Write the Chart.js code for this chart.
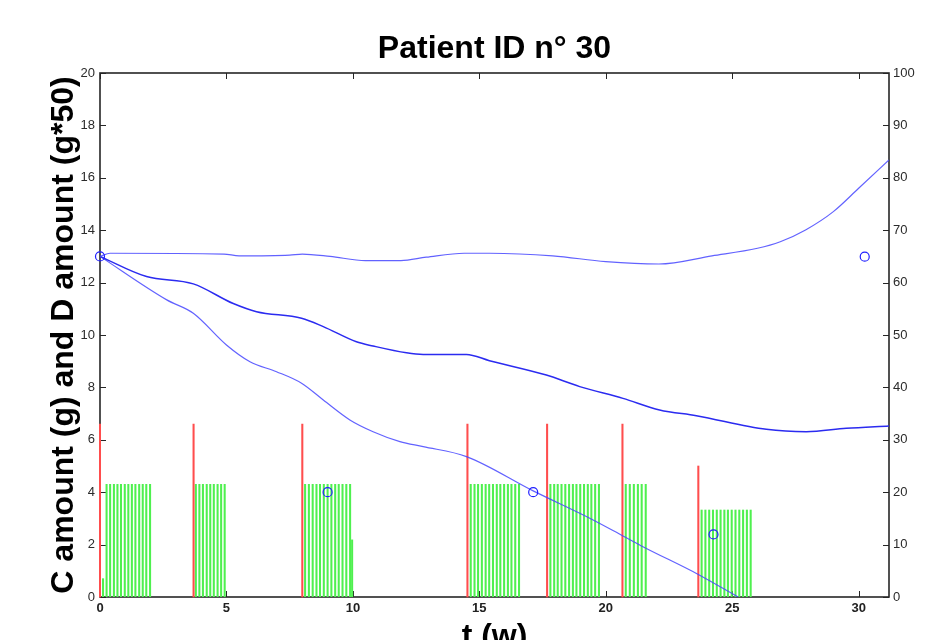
<!DOCTYPE html>
<html lang="en">
<head>
<meta charset="UTF-8">
<title>Patient ID n° 30</title>
<script src="https://cdn.jsdelivr.net/npm/chart.js"></script>
<style>
  html, body { margin: 0; padding: 0; background: #fff; overflow: hidden; }
  canvas { display: block; }
</style>
</head>
<body>
<canvas id="patientChart" width="925" height="665"></canvas>
<script>
// observed amounts (weeks, g)
const obsTimes = [0, 9.0, 17.13, 24.26, 30.24];
const obsValues = [13, 4.0, 4.0, 2.39, 12.99];

// predicted amount: upper band, median, lower band
const upperTimes = [0, 0.4, 4.9, 5.5, 7.5, 8.0, 9.1, 10.5, 11.9, 12.9, 14.4, 15.4, 17.9, 20.0, 22.1, 24.2, 26.0, 26.9, 27.9, 29.0, 30.0, 31.2];
const upperValues = [13, 13.12, 13.09, 13.02, 13.05, 13.09, 13.0, 12.84, 12.84, 12.97, 13.12, 13.12, 13.02, 12.8, 12.71, 13.02, 13.31, 13.56, 14.01, 14.71, 15.6, 16.68];

const medianTimes = [0, 1.84, 3.69, 5.27, 6.19, 7.97, 8.83, 10.14, 10.8, 12.12, 12.78, 14.49, 15.4, 17.65, 18.97, 20.68, 22.13, 23.58, 26.35, 27.93, 29.51, 31.2];
const medianValues = [13, 12.23, 11.95, 11.2, 10.89, 10.64, 10.32, 9.74, 9.58, 9.32, 9.26, 9.26, 9.02, 8.47, 8.03, 7.58, 7.14, 6.92, 6.4, 6.31, 6.44, 6.53];

const lowerTimes = [0, 2.64, 3.69, 5.0, 5.93, 6.98, 7.97, 8.83, 9.88, 10.8, 11.86, 12.78, 14.49, 17.13, 19.5, 20.68, 21.47, 23.64, 25.23];
const lowerValues = [13, 11.34, 10.83, 9.62, 8.98, 8.6, 8.16, 7.52, 6.76, 6.31, 5.93, 5.74, 5.36, 4.05, 2.94, 2.33, 1.92, 0.87, 0];

// D doses (g*50), one per cycle
const dTimes = [0, 3.7, 8.0, 14.53, 17.68, 20.66, 23.66];
const dAmounts = [6.6, 6.6, 6.6, 6.6, 6.6, 6.6, 5.0];

// C daily doses (g), grouped by cycle
const cCycleTimes = [
  [0.12, 0.26, 0.40, 0.55, 0.69, 0.83, 0.98, 1.12, 1.26, 1.40, 1.55, 1.69, 1.83, 1.98],
  [3.79, 3.93, 4.07, 4.22, 4.36, 4.50, 4.65, 4.79, 4.93],
  [8.11, 8.26, 8.41, 8.56, 8.70, 8.85, 9.00, 9.15, 9.30, 9.44, 9.59, 9.74, 9.89, 9.97],
  [14.66, 14.81, 14.95, 15.10, 15.25, 15.39, 15.54, 15.69, 15.83, 15.98, 16.13, 16.27, 16.42, 16.57],
  [17.81, 17.96, 18.10, 18.25, 18.40, 18.55, 18.70, 18.84, 18.99, 19.14, 19.29, 19.43, 19.58, 19.73],
  [20.79, 20.95, 21.11, 21.27, 21.42, 21.58],
  [23.79, 23.94, 24.09, 24.24, 24.39, 24.54, 24.69, 24.83, 24.98, 25.13, 25.28, 25.43, 25.58, 25.73]
];
const cCycleAmounts = [
  [0.7, 4.3, 4.3, 4.3, 4.3, 4.3, 4.3, 4.3, 4.3, 4.3, 4.3, 4.3, 4.3, 4.3],
  [4.3, 4.3, 4.3, 4.3, 4.3, 4.3, 4.3, 4.3, 4.3],
  [4.3, 4.3, 4.3, 4.3, 4.3, 4.3, 4.3, 4.3, 4.3, 4.3, 4.3, 4.3, 4.3, 2.18],
  [4.3, 4.3, 4.3, 4.3, 4.3, 4.3, 4.3, 4.3, 4.3, 4.3, 4.3, 4.3, 4.3, 4.3],
  [4.3, 4.3, 4.3, 4.3, 4.3, 4.3, 4.3, 4.3, 4.3, 4.3, 4.3, 4.3, 4.3, 4.3],
  [4.3, 4.3, 4.3, 4.3, 4.3, 4.3],
  [3.32, 3.32, 3.32, 3.32, 3.32, 3.32, 3.32, 3.32, 3.32, 3.32, 3.32, 3.32, 3.32, 3.32]
];

const FONT = 'Liberation Sans, Arial, Helvetica, sans-serif';

function toXY(xs, ys) {
  return xs.map((x, i) => ({ x: x, y: ys[i] }));
}

const cDoses = [];
cCycleTimes.forEach((times, c) => {
  cDoses.push(...toXY(times, cCycleAmounts[c]));
});

// MATLAB-like box with tick marks pointing into the plot
const boxTicks = {
  id: 'boxTicks',
  beforeDatasetsDraw(chart) {
    const { ctx, chartArea: a, scales } = chart;
    const len = 6;
    ctx.save();
    ctx.strokeStyle = '#262626';
    ctx.lineWidth = 1;
    ctx.beginPath();
    scales.x.ticks.forEach(t => {
      const px = Math.round(scales.x.getPixelForValue(t.value)) + 0.5;
      ctx.moveTo(px, a.bottom);
      ctx.lineTo(px, a.bottom - len);
      ctx.moveTo(px, a.top);
      ctx.lineTo(px, a.top + len);
    });
    scales.y.ticks.forEach(t => {
      const py = Math.round(scales.y.getPixelForValue(t.value)) + 0.5;
      ctx.moveTo(a.left, py);
      ctx.lineTo(a.left + len, py);
    });
    scales.y2.ticks.forEach(t => {
      const py = Math.round(scales.y2.getPixelForValue(t.value)) + 0.5;
      ctx.moveTo(a.right, py);
      ctx.lineTo(a.right - len, py);
    });
    ctx.stroke();
    ctx.lineWidth = 1.6;
    ctx.strokeRect(a.left, a.top, a.right - a.left, a.bottom - a.top);
    ctx.restore();
  }
};

new Chart(document.getElementById('patientChart'), {
  type: 'line',
  data: {
    datasets: [
      {
        label: 'Observed',
        data: toXY(obsTimes, obsValues),
        showLine: false,
        pointRadius: 4.5,
        pointBorderWidth: 1.2,
        pointBorderColor: '#1f1fff',
        pointBackgroundColor: 'rgba(0,0,0,0)',
        clip: false
      },
      {
        label: 'Upper',
        data: toXY(upperTimes, upperValues),
        borderColor: 'rgba(70,70,255,0.85)',
        borderWidth: 1.2,
        pointRadius: 0,
        cubicInterpolationMode: 'monotone'
      },
      {
        label: 'Median',
        data: toXY(medianTimes, medianValues),
        borderColor: '#2b2bf0',
        borderWidth: 1.5,
        pointRadius: 0,
        cubicInterpolationMode: 'monotone'
      },
      {
        label: 'Lower',
        data: toXY(lowerTimes, lowerValues),
        borderColor: 'rgba(70,70,255,0.85)',
        borderWidth: 1.2,
        pointRadius: 0,
        cubicInterpolationMode: 'monotone'
      },
      {
        type: 'bar',
        label: 'D amount',
        data: toXY(dTimes, dAmounts),
        backgroundColor: '#ff4d4d',
        barThickness: 1.4,
        grouped: false,
        clip: false
      },
      {
        type: 'bar',
        label: 'C amount',
        data: cDoses,
        backgroundColor: '#4ff04f',
        barThickness: 1.4,
        grouped: false
      }
    ]
  },
  options: {
    responsive: false,
    animation: false,
    layout: { padding: { left: 45, right: 0, top: 0, bottom: 9 } },
    plugins: {
      legend: { display: false },
      tooltip: { enabled: false },
      title: {
        display: true,
        fullSize: false,
        text: 'Patient ID n° 30',
        color: '#000',
        font: { family: FONT, size: 32, weight: 'bold' },
        padding: { top: 30, bottom: 4.6 }
      }
    },
    scales: {
      x: {
        type: 'linear',
        min: 0,
        max: 31.2,
        offset: false,
        grid: { display: false, drawTicks: false },
        border: { display: false },
        ticks: {
          stepSize: 5,
          includeBounds: false,
          maxRotation: 0,
          padding: 4,
          color: '#222',
          font: { family: FONT, size: 13, weight: 'bold' }
        },
        title: {
          display: true,
          text: 't (w)',
          color: '#000',
          padding: 0,
          font: { family: FONT, size: 32, weight: 'bold' }
        },
        afterFit(scale) { scale.height = 59; }
      },
      y: {
        type: 'linear',
        position: 'left',
        min: 0,
        max: 20,
        grid: { display: false, drawTicks: false },
        border: { display: false },
        ticks: {
          stepSize: 2,
          padding: 5,
          color: '#2b2b2b',
          font: { family: FONT, size: 13 }
        },
        title: {
          display: true,
          text: 'C amount (g) and D amount (g*50)',
          color: '#000',
          padding: 0,
          font: { family: FONT, size: 32, weight: 'bold' }
        },
        afterFit(scale) { scale.width = 55; }
      },
      y2: {
        type: 'linear',
        position: 'right',
        min: 0,
        max: 100,
        grid: { display: false, drawTicks: false },
        border: { display: false },
        ticks: {
          stepSize: 10,
          padding: 4,
          color: '#2b2b2b',
          font: { family: FONT, size: 13 }
        },
        afterFit(scale) { scale.width = 36; }
      }
    }
  },
  plugins: [boxTicks]
});
</script>
</body>
</html>
